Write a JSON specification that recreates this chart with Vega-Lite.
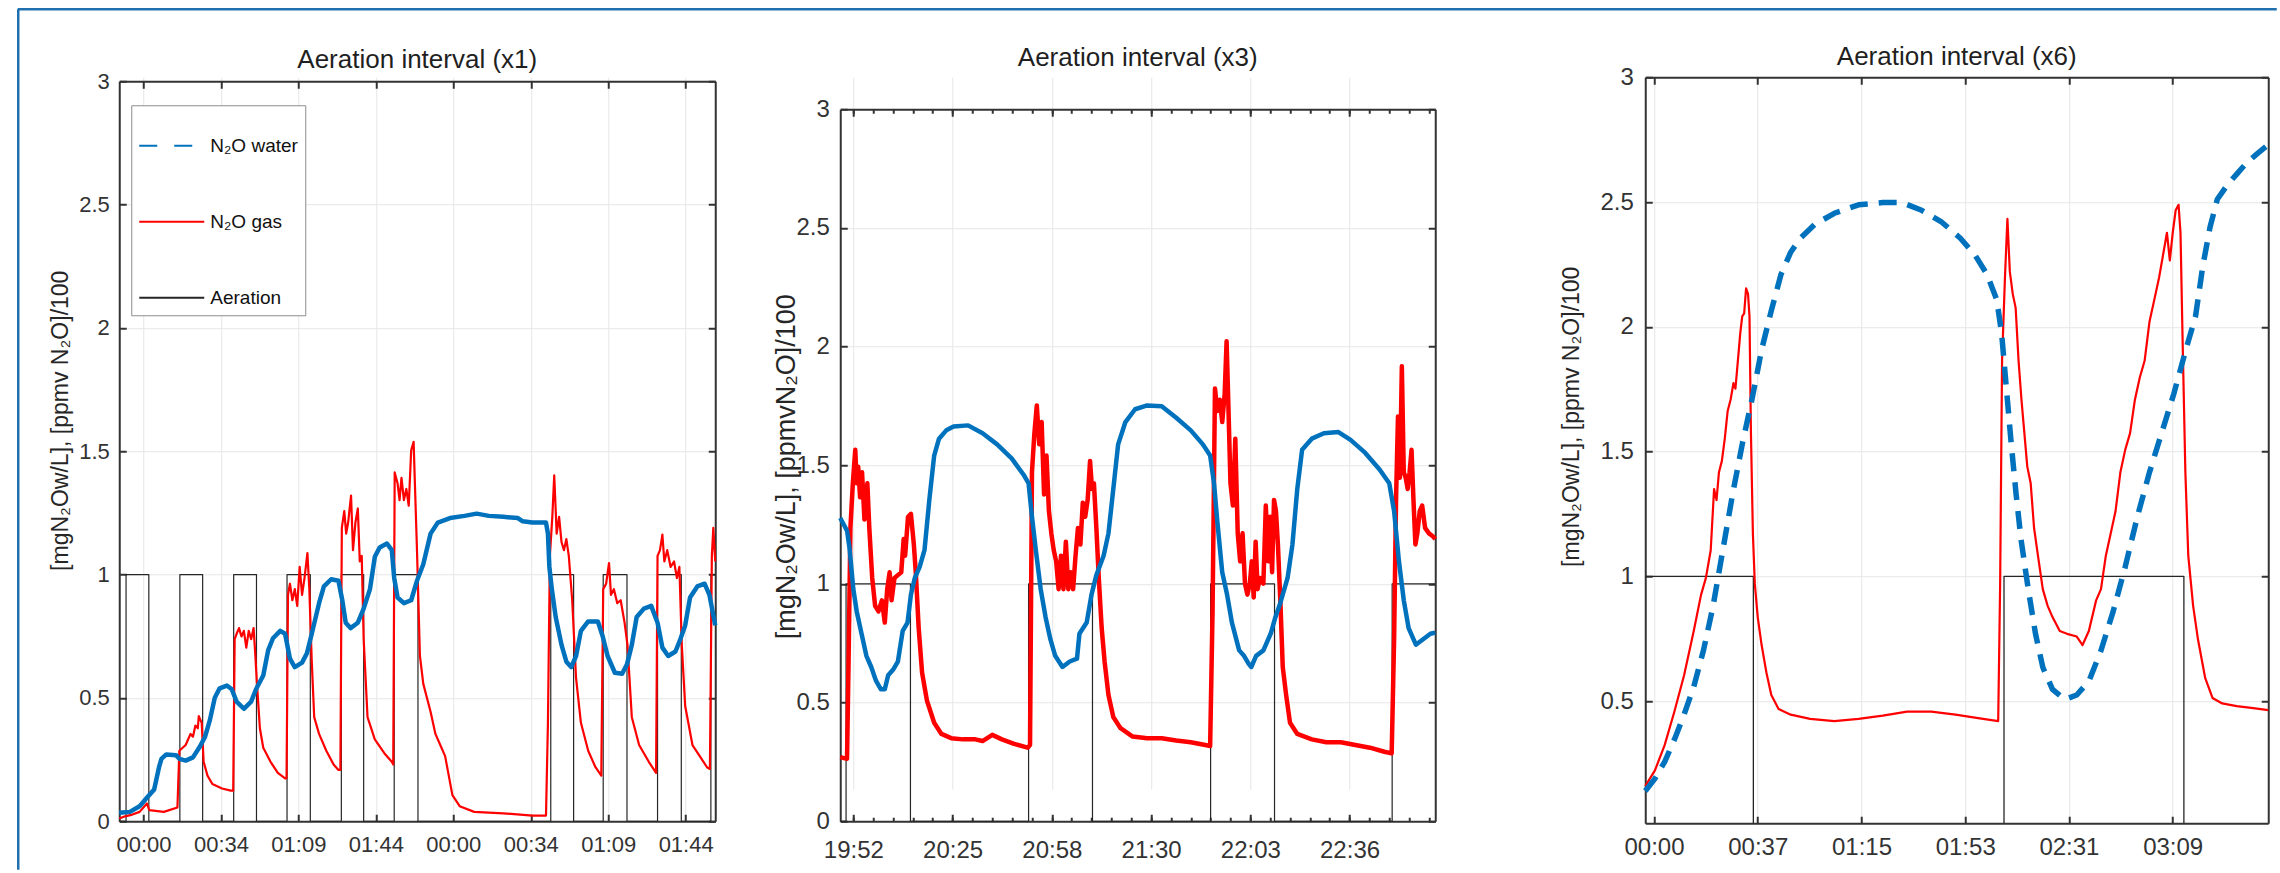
{
  "$schema": "https://vega.github.io/schema/vega-lite/v6.json",
  "background": "white",
  "padding": {"left": 17.25, "top": 8.25, "right": 0, "bottom": 0},
  "bounds": "flush",
  "spacing": 125,
  "config": {
    "view": {"stroke": null},
    "line": {"strokeJoin": "round"},
    "axis": {
      "domainColor": "#333333", "domainWidth": 2,
      "tickColor": "#333333", "tickWidth": 2, "tickSize": -7,
      "labelColor": "#333333", "labelFont": "Liberation Sans",
      "titleFont": "Liberation Sans", "titleFontWeight": "normal", "titleColor": "#262626",
      "gridColor": "#e6e6e6", "gridWidth": 1,
      "labelFlush": false, "labelOverlap": false, "labelAngle": 0
    },
    "title": {"font": "Liberation Sans", "fontWeight": "normal", "color": "#1f1f1f", "fontSize": 26, "frame": "group", "anchor": "middle"}
  },
  "resolve": {"scale": {"color": "independent", "strokeDash": "independent"}},
  "hconcat": [
    {
      "width": 596, "height": 744,
      "title": {"text": "Aeration interval (x1)", "offset": -63.95},
      "resolve": {"scale": {"x": "independent", "y": "independent"}},
      "layer": [
        {
          "resolve": {"axis": {"x": "independent", "y": "independent"}},
          "layer": [
            {
              "data": {"name": "p1_air"},
              "mark": {"type": "line", "interpolate": "step-after", "strokeWidth": 1.2},
              "encoding": {
                "x": {"field": "t", "type": "quantitative", "scale": {"domain": [-10.85, 255.92], "nice": false, "zero": false},
                  "axis": {"orient": "bottom", "title": null, "values": [0, 34.67, 69.34, 104.01, 138.67, 173.34, 208.01, 242.68],
                    "labelExpr": "timeFormat(datetime(2000, 0, 1, 0, datum.value % 138.67), '%H:%M')",
                    "labelFontSize": 22, "labelPadding": 20, "grid": true}},
                "y": {"field": "v", "type": "quantitative", "scale": {"domain": [0, 3], "range": [744, 4], "nice": false, "zero": false},
                  "axis": {"orient": "left", "values": [0, 0.5, 1, 1.5, 2, 2.5, 3], "format": "~g", "labelFontSize": 22, "labelPadding": 17, "grid": true,
                    "title": "[mgN₂Ow/L], [ppmv N₂O]/100", "titleFontSize": 23, "titleX": -59, "titleY": 343, "titleAngle": 270, "titleAlign": "center", "titleBaseline": "middle"}},
                "color": {"datum": "air", "type": "nominal",
                  "scale": {"domain": ["water", "gas", "air"], "range": ["#0072BD", "#FF0000", "#262626"]},
                  "legend": {
                    "orient": "none", "legendX": 12, "legendY": 28, "title": null, "direction": "vertical",
                    "symbolType": "stroke", "symbolSize": 4225, "symbolStrokeWidth": 2,
                    "labelFont": "Liberation Sans", "labelFontSize": 19, "labelColor": "#111111", "labelOffset": 5,
                    "padding": 7, "rowPadding": 32, "strokeColor": "#8c8c8c", "fillColor": "#ffffff",
                    "labelExpr": "datum.value == 'water' ? 'N₂O water' : datum.value == 'gas' ? 'N₂O gas' : 'Aeration'",
                    "encode": {
                      "symbols": {
                        "strokeWidth": {"condition": [{"test": "datum.value == 'water'", "value": 3.5}, {"test": "datum.value == 'gas'", "value": 2}], "value": 1}
                      }
                    }
                  }},
                "strokeDash": {"datum": "air", "type": "nominal",
                  "scale": {"domain": ["water", "gas", "air"], "range": [[18, 17], [1, 0], [1, 0]]},
                  "legend": {
                    "orient": "none", "legendX": 12, "legendY": 28, "title": null, "direction": "vertical",
                    "symbolType": "stroke", "symbolSize": 4225, "symbolStrokeWidth": 2,
                    "labelFont": "Liberation Sans", "labelFontSize": 19, "labelColor": "#111111", "labelOffset": 5,
                    "padding": 7, "rowPadding": 32, "strokeColor": "#8c8c8c", "fillColor": "#ffffff",
                    "labelExpr": "datum.value == 'water' ? 'N₂O water' : datum.value == 'gas' ? 'N₂O gas' : 'Aeration'",
                    "encode": {
                      "symbols": {
                        "strokeWidth": {"condition": [{"test": "datum.value == 'water'", "value": 3.5}, {"test": "datum.value == 'gas'", "value": 2}], "value": 1}
                      }
                    }
                  }}
              }
            },
            {
              "data": {"name": "p1_gas"},
              "mark": {"type": "line", "strokeWidth": 2.2},
              "encoding": {
                "x": {"field": "t", "type": "quantitative",
                  "axis": {"orient": "top", "offset": -4, "title": null, "labels": false, "grid": false, "values": [0, 34.67, 69.34, 104.01, 138.67, 173.34, 208.01, 242.68]}},
                "y": {"field": "v", "type": "quantitative",
                  "axis": {"orient": "right", "title": null, "labels": false, "grid": false, "values": [0, 0.5, 1, 1.5, 2, 2.5, 3]}},
                "color": {"datum": "gas", "type": "nominal"}
              }
            },
            {
              "data": {"name": "p1_water"},
              "mark": {"type": "line", "strokeWidth": 4.5},
              "encoding": {
                "x": {"field": "t", "type": "quantitative", "axis": null},
                "y": {"field": "v", "type": "quantitative", "axis": null},
                "color": {"datum": "water", "type": "nominal"}
              }
            }
          ]
        },
        {
          "data": {"values": [{"t": 0, "v": 0}, {"t": 1, "v": 1}]},
          "mark": {"type": "line", "opacity": 0},
          "encoding": {
            "x": {"field": "t", "type": "quantitative", "scale": {"domain": [0, 1], "range": [-102, 2157], "nice": false, "zero": false},
              "axis": {"orient": "top", "offset": 68.5, "title": null, "labels": false, "ticks": false, "grid": false, "domainColor": "#2070b0", "domainWidth": 2.5}},
            "y": {"field": "v", "type": "quantitative", "scale": {"domain": [0, 1], "range": [792, -68.5], "nice": false, "zero": false},
              "axis": {"orient": "left", "offset": 101.5, "title": null, "labels": false, "ticks": false, "grid": false, "domainColor": "#2070b0", "domainWidth": 2.5}}
          }
        }
      ]
    },
    {
      "bounds": "flush",
      "spacing": 210,
      "hconcat": [
        {
          "width": 595, "height": 744,
          "title": {"text": "Aeration interval (x3)", "offset": 5.8},
          "resolve": {"axis": {"x": "independent", "y": "independent"}},
          "layer": [
            {
              "data": {"name": "p2_air"},
              "mark": {"type": "line", "interpolate": "step-after", "strokeWidth": 1.2},
              "encoding": {
                "x": {"field": "t", "type": "quantitative", "scale": {"domain": [1188.18, 1384.82], "nice": false, "zero": false},
                  "axis": {"orient": "bottom", "title": null, "values": [1192.5, 1225.3, 1258.1, 1290.9, 1323.7, 1356.5],
                    "labelExpr": "timeFormat(datetime(2000, 0, 1, 0, datum.value), '%H:%M')",
                    "labelFontSize": 24, "labelPadding": 24, "grid": true}},
                "y": {"field": "v", "type": "quantitative", "scale": {"domain": [0, 3], "range": [744, 32], "nice": false, "zero": false},
                  "axis": {"orient": "left", "values": [0, 0.5, 1, 1.5, 2, 2.5, 3], "format": "~g", "labelFontSize": 24, "labelPadding": 18, "grid": true,
                    "title": "[mgN₂Ow/L], [ppmvN₂O]/100", "titleFontSize": 27, "titleX": -54, "titleY": 389, "titleAngle": 270, "titleAlign": "center", "titleBaseline": "middle"}},
                "color": {"datum": "air", "type": "nominal",
                  "scale": {"domain": ["water", "gas", "air"], "range": ["#0072BD", "#FF0000", "#262626"]}, "legend": null}
              }
            },
            {
              "data": {"name": "p2_gas"},
              "mark": {"type": "line", "strokeWidth": 4.5},
              "encoding": {
                "x": {"field": "t", "type": "quantitative",
                  "axis": {"orient": "top", "offset": -32, "title": null, "labels": false, "grid": false, "values": [1192.5, 1225.3, 1258.1, 1290.9, 1323.7, 1356.5]}},
                "y": {"field": "v", "type": "quantitative",
                  "axis": {"orient": "right", "title": null, "labels": false, "grid": false, "values": [0, 0.5, 1, 1.5, 2, 2.5, 3]}},
                "color": {"datum": "gas", "type": "nominal", "legend": null}
              }
            },
            {
              "data": {"name": "p2_water"},
              "mark": {"type": "line", "strokeWidth": 4.5},
              "encoding": {
                "x": {"field": "t", "type": "quantitative",
                  "axis": {"orient": "bottom", "title": null, "labels": false, "grid": false, "domain": false, "tickSize": -4,
                    "values": [1192.5, 1199.06, 1205.62, 1212.18, 1218.74, 1225.3, 1231.86, 1238.42, 1244.98, 1251.54, 1258.1, 1264.66, 1271.22, 1277.78, 1284.34, 1290.9, 1297.46, 1304.02, 1310.58, 1317.14, 1323.7, 1330.26, 1336.82, 1343.38, 1349.94, 1356.5, 1363.06, 1369.62, 1376.18, 1382.74]}},
                "y": {"field": "v", "type": "quantitative", "axis": null},
                "color": {"datum": "water", "type": "nominal", "legend": null}
              }
            },
            {
              "data": {"name": "p2_water"},
              "mark": {"type": "line", "opacity": 0},
              "encoding": {
                "x": {"field": "t", "type": "quantitative",
                  "axis": {"orient": "top", "offset": -32, "title": null, "labels": false, "grid": false, "domain": false, "tickSize": -4,
                    "values": [1192.5, 1199.06, 1205.62, 1212.18, 1218.74, 1225.3, 1231.86, 1238.42, 1244.98, 1251.54, 1258.1, 1264.66, 1271.22, 1277.78, 1284.34, 1290.9, 1297.46, 1304.02, 1310.58, 1317.14, 1323.7, 1330.26, 1336.82, 1343.38, 1349.94, 1356.5, 1363.06, 1369.62, 1376.18, 1382.74]}},
                "y": {"field": "v", "type": "quantitative", "axis": null}
              }
            }
          ]
        },
        {
          "width": 623, "height": 746,
          "title": {"text": "Aeration interval (x6)", "offset": -5},
          "resolve": {"axis": {"x": "independent", "y": "independent"}},
          "layer": [
            {
              "data": {"name": "p3_air"},
              "mark": {"type": "line", "interpolate": "step-after", "strokeWidth": 1.3, "clip": true},
              "encoding": {
                "x": {"field": "t", "type": "quantitative", "scale": {"domain": [-3.18, 223.82], "nice": false, "zero": false},
                  "axis": {"orient": "bottom", "title": null, "values": [0, 37.8, 75.6, 113.4, 151.2, 189],
                    "labelExpr": "timeFormat(datetime(2000, 0, 1, 0, datum.value), '%H:%M')",
                    "labelFontSize": 24, "labelPadding": 19, "grid": true}},
                "y": {"field": "v", "type": "quantitative", "scale": {"domain": [0.011, 3], "nice": false, "zero": false},
                  "axis": {"orient": "left", "values": [0.5, 1, 1.5, 2, 2.5, 3], "format": "~g", "labelFontSize": 24, "labelPadding": 19, "grid": true,
                    "title": "[mgN₂Ow/L], [ppmv N₂O]/100", "titleFontSize": 23, "titleX": -74, "titleY": 339, "titleAngle": 270, "titleAlign": "center", "titleBaseline": "middle"}},
                "color": {"datum": "air", "type": "nominal",
                  "scale": {"domain": ["water", "gas", "air"], "range": ["#0072BD", "#FF0000", "#262626"]}, "legend": null}
              }
            },
            {
              "data": {"name": "p3_gas"},
              "mark": {"type": "line", "strokeWidth": 2.2},
              "encoding": {
                "x": {"field": "t", "type": "quantitative",
                  "axis": {"orient": "top", "title": null, "labels": false, "grid": false, "values": [0, 37.8, 75.6, 113.4, 151.2, 189]}},
                "y": {"field": "v", "type": "quantitative",
                  "axis": {"orient": "right", "title": null, "labels": false, "grid": false, "values": [0.5, 1, 1.5, 2, 2.5, 3]}},
                "color": {"datum": "gas", "type": "nominal", "legend": null}
              }
            },
            {
              "data": {"name": "p3_water"},
              "mark": {"type": "line", "strokeWidth": 5.5, "strokeDash": [18, 11]},
              "encoding": {
                "x": {"field": "t", "type": "quantitative", "axis": null},
                "y": {"field": "v", "type": "quantitative", "axis": null},
                "color": {"datum": "water", "type": "nominal", "legend": null}
              }
            }
          ]
        }
      ]
    }
  ],
  "datasets": {
    "p1_air": [
      {"t": -10.85, "v": 0}, {"t": -7.81, "v": 1}, {"t": 2.39, "v": 0}, {"t": 16.28, "v": 1}, {"t": 26.48, "v": 0},
      {"t": 40.37, "v": 1}, {"t": 50.58, "v": 0}, {"t": 64.25, "v": 1}, {"t": 74.67, "v": 0}, {"t": 88.56, "v": 1},
      {"t": 98.55, "v": 0}, {"t": 112.22, "v": 1}, {"t": 122.86, "v": 0}, {"t": 182.3, "v": 1}, {"t": 192.53, "v": 0},
      {"t": 205.77, "v": 1}, {"t": 216.41, "v": 0}, {"t": 230.09, "v": 1}, {"t": 240.72, "v": 0}, {"t": 253.96, "v": 1},
      {"t": 255.92, "v": 1}
    ],
    "p1_gas": [
      {"t": -10.85, "v": 0.011}, {"t": -8.25, "v": 0.02}, {"t": -4.99, "v": 0.027}, {"t": -1.74, "v": 0.038}, {"t": 0.43, "v": 0.061},
      {"t": 1.52, "v": 0.072}, {"t": 2.6, "v": 0.045}, {"t": 9.12, "v": 0.038}, {"t": 15.19, "v": 0.056}, {"t": 16.06, "v": 0.286},
      {"t": 18.88, "v": 0.309}, {"t": 21.05, "v": 0.354}, {"t": 22.14, "v": 0.343}, {"t": 23.23, "v": 0.388}, {"t": 24.31, "v": 0.377},
      {"t": 24.75, "v": 0.426}, {"t": 26.05, "v": 0.399}, {"t": 26.92, "v": 0.241}, {"t": 28.65, "v": 0.185}, {"t": 30.82, "v": 0.151},
      {"t": 35.16, "v": 0.133}, {"t": 39.07, "v": 0.124}, {"t": 40.16, "v": 0.124}, {"t": 40.81, "v": 0.738}, {"t": 41.68, "v": 0.76},
      {"t": 42.76, "v": 0.783}, {"t": 43.85, "v": 0.749}, {"t": 44.93, "v": 0.772}, {"t": 46.02, "v": 0.704}, {"t": 47.11, "v": 0.772},
      {"t": 48.19, "v": 0.738}, {"t": 49.28, "v": 0.783}, {"t": 49.93, "v": 0.693}, {"t": 50.79, "v": 0.557}, {"t": 52.1, "v": 0.377},
      {"t": 53.61, "v": 0.298}, {"t": 56.87, "v": 0.241}, {"t": 60.13, "v": 0.196}, {"t": 63.38, "v": 0.174}, {"t": 64.03, "v": 0.174},
      {"t": 64.68, "v": 0.918}, {"t": 65.55, "v": 0.963}, {"t": 66.64, "v": 0.896}, {"t": 67.72, "v": 0.941}, {"t": 68.81, "v": 0.873},
      {"t": 69.9, "v": 1.031}, {"t": 70.98, "v": 0.918}, {"t": 72.07, "v": 0.986}, {"t": 73.37, "v": 1.087}, {"t": 74.23, "v": 0.941},
      {"t": 75.32, "v": 0.647}, {"t": 76.41, "v": 0.422}, {"t": 78.58, "v": 0.354}, {"t": 81.83, "v": 0.286}, {"t": 85.09, "v": 0.23},
      {"t": 87.26, "v": 0.208}, {"t": 88.13, "v": 0.208}, {"t": 88.78, "v": 1.189}, {"t": 89.86, "v": 1.257}, {"t": 90.73, "v": 1.166},
      {"t": 91.6, "v": 1.211}, {"t": 92.9, "v": 1.32}, {"t": 93.77, "v": 1.099}, {"t": 94.86, "v": 1.211}, {"t": 95.94, "v": 1.268},
      {"t": 96.81, "v": 1.053}, {"t": 97.68, "v": 1.076}, {"t": 98.55, "v": 0.738}, {"t": 100.28, "v": 0.422}, {"t": 103.54, "v": 0.332},
      {"t": 107.88, "v": 0.275}, {"t": 111.14, "v": 0.241}, {"t": 111.79, "v": 0.23}, {"t": 112.44, "v": 1.414}, {"t": 113.74, "v": 1.369},
      {"t": 114.61, "v": 1.302}, {"t": 115.48, "v": 1.392}, {"t": 116.56, "v": 1.302}, {"t": 117.65, "v": 1.347}, {"t": 118.73, "v": 1.279},
      {"t": 119.82, "v": 1.504}, {"t": 120.91, "v": 1.538}, {"t": 121.56, "v": 1.347}, {"t": 122.42, "v": 1.099}, {"t": 123.73, "v": 0.67},
      {"t": 125.24, "v": 0.557}, {"t": 128.5, "v": 0.444}, {"t": 130.67, "v": 0.354}, {"t": 132.84, "v": 0.309}, {"t": 135.01, "v": 0.264},
      {"t": 138.27, "v": 0.106}, {"t": 141.53, "v": 0.061}, {"t": 148.04, "v": 0.038}, {"t": 161.06, "v": 0.032}, {"t": 174.09, "v": 0.023},
      {"t": 180.16, "v": 0.023}, {"t": 181.03, "v": 0.399}, {"t": 181.9, "v": 1.076}, {"t": 182.99, "v": 1.234}, {"t": 183.85, "v": 1.402},
      {"t": 184.94, "v": 1.166}, {"t": 186.03, "v": 1.234}, {"t": 187.11, "v": 1.132}, {"t": 188.2, "v": 1.099}, {"t": 189.28, "v": 1.144},
      {"t": 190.37, "v": 1.076}, {"t": 191.89, "v": 0.896}, {"t": 193.62, "v": 0.58}, {"t": 195.79, "v": 0.399}, {"t": 199.05, "v": 0.286},
      {"t": 202.31, "v": 0.219}, {"t": 204.91, "v": 0.185}, {"t": 205.77, "v": 0.941}, {"t": 207.08, "v": 0.963}, {"t": 208.38, "v": 1.047},
      {"t": 209.25, "v": 0.918}, {"t": 210.55, "v": 0.941}, {"t": 212.07, "v": 0.884}, {"t": 213.59, "v": 0.896}, {"t": 215.33, "v": 0.805},
      {"t": 216.63, "v": 0.715}, {"t": 218.58, "v": 0.422}, {"t": 221.84, "v": 0.309}, {"t": 226.18, "v": 0.241}, {"t": 229.44, "v": 0.196},
      {"t": 230.09, "v": 1.076}, {"t": 231.18, "v": 1.099}, {"t": 232.26, "v": 1.162}, {"t": 233.13, "v": 1.053}, {"t": 234.43, "v": 1.099},
      {"t": 235.95, "v": 1.031}, {"t": 237.47, "v": 1.053}, {"t": 238.77, "v": 0.986}, {"t": 239.86, "v": 1.031}, {"t": 240.94, "v": 0.715},
      {"t": 242.46, "v": 0.467}, {"t": 245.72, "v": 0.309}, {"t": 248.98, "v": 0.264}, {"t": 252.23, "v": 0.219}, {"t": 253.53, "v": 0.212},
      {"t": 254.4, "v": 1.076}, {"t": 255.05, "v": 1.189}, {"t": 255.92, "v": 1.053}
    ],
    "p1_water": [
      {"t": -10.85, "v": 0.034}, {"t": -6.08, "v": 0.038}, {"t": -1.74, "v": 0.061}, {"t": 1.52, "v": 0.095}, {"t": 4.78, "v": 0.129},
      {"t": 6.95, "v": 0.219}, {"t": 8.03, "v": 0.253}, {"t": 10.2, "v": 0.271}, {"t": 14.54, "v": 0.268}, {"t": 16.06, "v": 0.253},
      {"t": 18.88, "v": 0.246}, {"t": 22.14, "v": 0.259}, {"t": 25.4, "v": 0.305}, {"t": 27.57, "v": 0.343}, {"t": 29.74, "v": 0.411},
      {"t": 31.91, "v": 0.501}, {"t": 34.08, "v": 0.539}, {"t": 37.33, "v": 0.55}, {"t": 39.5, "v": 0.535}, {"t": 41.68, "v": 0.485},
      {"t": 44.93, "v": 0.456}, {"t": 48.19, "v": 0.485}, {"t": 50.36, "v": 0.535}, {"t": 53.61, "v": 0.591}, {"t": 55.79, "v": 0.693},
      {"t": 57.96, "v": 0.742}, {"t": 61.21, "v": 0.772}, {"t": 63.38, "v": 0.76}, {"t": 65.55, "v": 0.659}, {"t": 67.72, "v": 0.625},
      {"t": 70.98, "v": 0.643}, {"t": 73.15, "v": 0.681}, {"t": 75.32, "v": 0.76}, {"t": 78.58, "v": 0.884}, {"t": 80.75, "v": 0.952},
      {"t": 84.0, "v": 0.981}, {"t": 87.26, "v": 0.975}, {"t": 88.99, "v": 0.896}, {"t": 90.51, "v": 0.805}, {"t": 92.68, "v": 0.783},
      {"t": 95.94, "v": 0.805}, {"t": 98.55, "v": 0.862}, {"t": 101.37, "v": 0.941}, {"t": 103.54, "v": 1.072}, {"t": 105.71, "v": 1.11},
      {"t": 108.97, "v": 1.126}, {"t": 111.14, "v": 1.099}, {"t": 112.22, "v": 0.986}, {"t": 113.74, "v": 0.907}, {"t": 116.56, "v": 0.884},
      {"t": 119.82, "v": 0.896}, {"t": 122.42, "v": 0.975}, {"t": 125.24, "v": 1.042}, {"t": 128.5, "v": 1.166}, {"t": 131.76, "v": 1.211},
      {"t": 137.18, "v": 1.229}, {"t": 143.69, "v": 1.238}, {"t": 149.12, "v": 1.247}, {"t": 154.55, "v": 1.238}, {"t": 161.06, "v": 1.234},
      {"t": 167.57, "v": 1.229}, {"t": 169.74, "v": 1.216}, {"t": 174.09, "v": 1.211}, {"t": 180.16, "v": 1.211}, {"t": 181.03, "v": 1.166},
      {"t": 181.68, "v": 1.031}, {"t": 182.77, "v": 0.941}, {"t": 184.5, "v": 0.828}, {"t": 187.11, "v": 0.715}, {"t": 189.28, "v": 0.647},
      {"t": 191.45, "v": 0.625}, {"t": 193.62, "v": 0.67}, {"t": 195.79, "v": 0.772}, {"t": 199.05, "v": 0.81}, {"t": 203.39, "v": 0.81},
      {"t": 205.56, "v": 0.749}, {"t": 207.73, "v": 0.67}, {"t": 210.99, "v": 0.602}, {"t": 214.24, "v": 0.598}, {"t": 216.41, "v": 0.636},
      {"t": 218.58, "v": 0.715}, {"t": 220.75, "v": 0.828}, {"t": 224.0, "v": 0.862}, {"t": 227.26, "v": 0.873}, {"t": 230.09, "v": 0.805},
      {"t": 232.26, "v": 0.704}, {"t": 234.86, "v": 0.67}, {"t": 238.12, "v": 0.688}, {"t": 240.29, "v": 0.738}, {"t": 242.46, "v": 0.794},
      {"t": 244.63, "v": 0.907}, {"t": 247.89, "v": 0.952}, {"t": 251.14, "v": 0.963}, {"t": 253.31, "v": 0.918}, {"t": 255.92, "v": 0.794}
    ],
    "p2_air": [
      {"t": 1188.18, "v": 0}, {"t": 1190.1, "v": 1}, {"t": 1211.38, "v": 0}, {"t": 1250.42, "v": 1}, {"t": 1271.54, "v": 0},
      {"t": 1310.58, "v": 1}, {"t": 1331.7, "v": 0}, {"t": 1370.58, "v": 1}, {"t": 1384.82, "v": 1}
    ],
    "p2_gas": [
      {"t": 1188.18, "v": 0.27}, {"t": 1190.42, "v": 0.263}, {"t": 1190.9, "v": 0.65}, {"t": 1191.54, "v": 1.236}, {"t": 1192.34, "v": 1.424},
      {"t": 1193.14, "v": 1.565}, {"t": 1193.62, "v": 1.424}, {"t": 1194.1, "v": 1.494}, {"t": 1194.74, "v": 1.365}, {"t": 1195.38, "v": 1.471},
      {"t": 1196.18, "v": 1.271}, {"t": 1197.14, "v": 1.424}, {"t": 1197.78, "v": 1.236}, {"t": 1198.74, "v": 1.025}, {"t": 1199.7, "v": 0.908},
      {"t": 1200.82, "v": 0.884}, {"t": 1201.94, "v": 0.931}, {"t": 1202.9, "v": 0.837}, {"t": 1203.7, "v": 0.978}, {"t": 1204.5, "v": 1.049},
      {"t": 1205.14, "v": 0.931}, {"t": 1206.1, "v": 1.025}, {"t": 1207.22, "v": 1.037}, {"t": 1208.34, "v": 1.049}, {"t": 1209.14, "v": 1.189},
      {"t": 1209.62, "v": 1.119}, {"t": 1210.58, "v": 1.283}, {"t": 1211.54, "v": 1.295}, {"t": 1212.5, "v": 1.166}, {"t": 1213.14, "v": 1.049},
      {"t": 1214.1, "v": 0.814}, {"t": 1215.22, "v": 0.626}, {"t": 1216.82, "v": 0.509}, {"t": 1219.22, "v": 0.415}, {"t": 1221.62, "v": 0.368},
      {"t": 1224.82, "v": 0.35}, {"t": 1228.82, "v": 0.345}, {"t": 1232.82, "v": 0.345}, {"t": 1235.22, "v": 0.338}, {"t": 1238.42, "v": 0.364},
      {"t": 1241.62, "v": 0.345}, {"t": 1245.62, "v": 0.326}, {"t": 1250.1, "v": 0.31}, {"t": 1250.9, "v": 0.321}, {"t": 1251.54, "v": 1.471},
      {"t": 1252.34, "v": 1.635}, {"t": 1253.14, "v": 1.752}, {"t": 1253.94, "v": 1.588}, {"t": 1254.74, "v": 1.682}, {"t": 1255.54, "v": 1.377},
      {"t": 1256.34, "v": 1.541}, {"t": 1257.14, "v": 1.307}, {"t": 1257.94, "v": 1.213}, {"t": 1258.74, "v": 1.142}, {"t": 1259.54, "v": 1.095},
      {"t": 1260.34, "v": 0.978}, {"t": 1261.14, "v": 1.119}, {"t": 1261.94, "v": 0.978}, {"t": 1262.74, "v": 1.178}, {"t": 1263.54, "v": 0.978},
      {"t": 1264.34, "v": 1.049}, {"t": 1265.14, "v": 0.978}, {"t": 1265.94, "v": 1.119}, {"t": 1266.74, "v": 1.236}, {"t": 1267.54, "v": 1.166},
      {"t": 1268.34, "v": 1.342}, {"t": 1269.14, "v": 1.283}, {"t": 1269.94, "v": 1.354}, {"t": 1270.74, "v": 1.518}, {"t": 1271.38, "v": 1.4},
      {"t": 1272.02, "v": 1.424}, {"t": 1272.82, "v": 1.236}, {"t": 1273.62, "v": 1.025}, {"t": 1274.58, "v": 0.814}, {"t": 1275.54, "v": 0.673},
      {"t": 1276.82, "v": 0.532}, {"t": 1278.42, "v": 0.439}, {"t": 1280.82, "v": 0.392}, {"t": 1284.82, "v": 0.357}, {"t": 1289.62, "v": 0.35},
      {"t": 1294.42, "v": 0.35}, {"t": 1299.22, "v": 0.34}, {"t": 1304.02, "v": 0.333}, {"t": 1308.82, "v": 0.321}, {"t": 1310.42, "v": 0.317},
      {"t": 1311.22, "v": 0.884}, {"t": 1312.02, "v": 1.823}, {"t": 1312.82, "v": 1.729}, {"t": 1313.62, "v": 1.776}, {"t": 1314.42, "v": 1.682},
      {"t": 1315.22, "v": 1.799}, {"t": 1315.86, "v": 2.022}, {"t": 1316.5, "v": 1.729}, {"t": 1317.14, "v": 1.424}, {"t": 1317.94, "v": 1.33},
      {"t": 1318.74, "v": 1.612}, {"t": 1319.54, "v": 1.213}, {"t": 1320.34, "v": 1.095}, {"t": 1321.14, "v": 1.213}, {"t": 1321.94, "v": 1.001},
      {"t": 1322.74, "v": 0.955}, {"t": 1323.54, "v": 1.001}, {"t": 1324.18, "v": 1.095}, {"t": 1324.82, "v": 0.943}, {"t": 1325.46, "v": 1.178},
      {"t": 1326.1, "v": 0.978}, {"t": 1326.9, "v": 1.025}, {"t": 1328.02, "v": 1.001}, {"t": 1328.82, "v": 1.33}, {"t": 1329.62, "v": 1.095},
      {"t": 1330.26, "v": 1.283}, {"t": 1330.9, "v": 1.049}, {"t": 1331.54, "v": 1.354}, {"t": 1332.18, "v": 1.307}, {"t": 1332.82, "v": 1.166},
      {"t": 1333.62, "v": 0.931}, {"t": 1334.42, "v": 0.65}, {"t": 1335.54, "v": 0.532}, {"t": 1336.82, "v": 0.415}, {"t": 1339.22, "v": 0.368},
      {"t": 1344.02, "v": 0.345}, {"t": 1348.82, "v": 0.333}, {"t": 1353.62, "v": 0.333}, {"t": 1358.42, "v": 0.321}, {"t": 1363.22, "v": 0.31},
      {"t": 1368.02, "v": 0.293}, {"t": 1370.42, "v": 0.286}, {"t": 1371.22, "v": 0.767}, {"t": 1371.86, "v": 1.354}, {"t": 1372.5, "v": 1.705},
      {"t": 1373.14, "v": 1.447}, {"t": 1373.78, "v": 1.917}, {"t": 1374.42, "v": 1.471}, {"t": 1375.06, "v": 1.447}, {"t": 1375.7, "v": 1.4},
      {"t": 1376.34, "v": 1.471}, {"t": 1376.98, "v": 1.565}, {"t": 1377.62, "v": 1.354}, {"t": 1378.26, "v": 1.166}, {"t": 1378.9, "v": 1.213},
      {"t": 1379.7, "v": 1.307}, {"t": 1380.5, "v": 1.33}, {"t": 1381.46, "v": 1.236}, {"t": 1382.74, "v": 1.213}, {"t": 1384.02, "v": 1.201},
      {"t": 1384.82, "v": 1.189}
    ],
    "p2_water": [
      {"t": 1188.18, "v": 1.278}, {"t": 1190.42, "v": 1.224}, {"t": 1191.22, "v": 1.154}, {"t": 1192.5, "v": 0.978}, {"t": 1193.62, "v": 0.884},
      {"t": 1195.22, "v": 0.79}, {"t": 1196.82, "v": 0.697}, {"t": 1198.42, "v": 0.65}, {"t": 1200.02, "v": 0.591}, {"t": 1201.62, "v": 0.556},
      {"t": 1202.9, "v": 0.556}, {"t": 1204.02, "v": 0.615}, {"t": 1205.62, "v": 0.638}, {"t": 1207.22, "v": 0.673}, {"t": 1208.82, "v": 0.802},
      {"t": 1210.42, "v": 0.837}, {"t": 1211.54, "v": 0.955}, {"t": 1212.82, "v": 1.025}, {"t": 1214.42, "v": 1.072}, {"t": 1216.02, "v": 1.142},
      {"t": 1217.62, "v": 1.354}, {"t": 1219.22, "v": 1.541}, {"t": 1220.82, "v": 1.612}, {"t": 1223.22, "v": 1.647}, {"t": 1225.62, "v": 1.663},
      {"t": 1230.42, "v": 1.668}, {"t": 1235.22, "v": 1.635}, {"t": 1240.02, "v": 1.588}, {"t": 1244.82, "v": 1.529}, {"t": 1248.82, "v": 1.459},
      {"t": 1250.42, "v": 1.424}, {"t": 1251.54, "v": 1.283}, {"t": 1252.82, "v": 1.142}, {"t": 1254.42, "v": 0.978}, {"t": 1256.02, "v": 0.861},
      {"t": 1257.62, "v": 0.767}, {"t": 1259.22, "v": 0.697}, {"t": 1261.62, "v": 0.65}, {"t": 1264.02, "v": 0.673}, {"t": 1266.42, "v": 0.685},
      {"t": 1267.22, "v": 0.79}, {"t": 1269.62, "v": 0.837}, {"t": 1271.22, "v": 0.955}, {"t": 1272.82, "v": 1.037}, {"t": 1275.22, "v": 1.119},
      {"t": 1276.82, "v": 1.213}, {"t": 1278.42, "v": 1.4}, {"t": 1280.02, "v": 1.588}, {"t": 1282.42, "v": 1.682}, {"t": 1285.62, "v": 1.736},
      {"t": 1289.62, "v": 1.752}, {"t": 1294.42, "v": 1.749}, {"t": 1299.22, "v": 1.7}, {"t": 1304.02, "v": 1.647}, {"t": 1308.02, "v": 1.588},
      {"t": 1310.42, "v": 1.541}, {"t": 1311.7, "v": 1.424}, {"t": 1312.82, "v": 1.26}, {"t": 1314.42, "v": 1.049}, {"t": 1316.02, "v": 0.955},
      {"t": 1317.62, "v": 0.837}, {"t": 1320.02, "v": 0.72}, {"t": 1321.62, "v": 0.697}, {"t": 1323.22, "v": 0.662}, {"t": 1324.02, "v": 0.65},
      {"t": 1325.62, "v": 0.697}, {"t": 1328.02, "v": 0.72}, {"t": 1330.42, "v": 0.79}, {"t": 1332.02, "v": 0.861}, {"t": 1333.62, "v": 0.92},
      {"t": 1336.02, "v": 1.025}, {"t": 1337.62, "v": 1.166}, {"t": 1339.22, "v": 1.4}, {"t": 1340.82, "v": 1.565}, {"t": 1344.02, "v": 1.612},
      {"t": 1348.02, "v": 1.635}, {"t": 1352.82, "v": 1.64}, {"t": 1356.82, "v": 1.607}, {"t": 1361.62, "v": 1.553}, {"t": 1366.42, "v": 1.482},
      {"t": 1369.62, "v": 1.424}, {"t": 1371.22, "v": 1.307}, {"t": 1372.82, "v": 1.095}, {"t": 1374.42, "v": 0.931}, {"t": 1376.02, "v": 0.814},
      {"t": 1378.42, "v": 0.744}, {"t": 1380.82, "v": 0.767}, {"t": 1383.22, "v": 0.79}, {"t": 1384.82, "v": 0.795}
    ],
    "p3_air": [
      {"t": -3.18, "v": 1}, {"t": 36.21, "v": 0}, {"t": 127.54, "v": 1}, {"t": 193.08, "v": 0}, {"t": 223.82, "v": 0}
    ],
    "p3_gas": [
      {"t": -3.18, "v": 0.16}, {"t": 0.35, "v": 0.223}, {"t": 3.89, "v": 0.324}, {"t": 7.42, "v": 0.458}, {"t": 10.95, "v": 0.603},
      {"t": 14.49, "v": 0.781}, {"t": 17.14, "v": 0.926}, {"t": 18.9, "v": 0.993}, {"t": 20.67, "v": 1.105}, {"t": 21.9, "v": 1.35},
      {"t": 22.79, "v": 1.306}, {"t": 23.67, "v": 1.417}, {"t": 24.73, "v": 1.462}, {"t": 25.79, "v": 1.551}, {"t": 26.85, "v": 1.663},
      {"t": 27.91, "v": 1.708}, {"t": 28.97, "v": 1.775}, {"t": 29.68, "v": 1.752}, {"t": 30.74, "v": 1.886}, {"t": 31.44, "v": 1.975},
      {"t": 32.15, "v": 2.042}, {"t": 32.86, "v": 2.054}, {"t": 33.56, "v": 2.154}, {"t": 34.27, "v": 2.132}, {"t": 34.8, "v": 2.042},
      {"t": 35.33, "v": 1.574}, {"t": 36.04, "v": 1.172}, {"t": 36.74, "v": 0.971}, {"t": 37.8, "v": 0.837}, {"t": 39.22, "v": 0.725},
      {"t": 40.98, "v": 0.614}, {"t": 42.75, "v": 0.525}, {"t": 45.4, "v": 0.469}, {"t": 49.82, "v": 0.446}, {"t": 56.88, "v": 0.429},
      {"t": 65.71, "v": 0.42}, {"t": 74.55, "v": 0.429}, {"t": 83.38, "v": 0.442}, {"t": 92.21, "v": 0.458}, {"t": 101.04, "v": 0.458},
      {"t": 109.88, "v": 0.446}, {"t": 118.71, "v": 0.431}, {"t": 125.42, "v": 0.42}, {"t": 126.13, "v": 0.971}, {"t": 126.83, "v": 1.864},
      {"t": 127.89, "v": 2.199}, {"t": 128.78, "v": 2.433}, {"t": 129.66, "v": 2.221}, {"t": 130.72, "v": 2.132}, {"t": 131.78, "v": 2.076},
      {"t": 132.84, "v": 1.864}, {"t": 133.9, "v": 1.708}, {"t": 134.96, "v": 1.574}, {"t": 136.02, "v": 1.44}, {"t": 137.26, "v": 1.373},
      {"t": 138.49, "v": 1.194}, {"t": 139.91, "v": 1.083}, {"t": 141.67, "v": 0.949}, {"t": 143.44, "v": 0.882}, {"t": 145.21, "v": 0.837},
      {"t": 147.86, "v": 0.781}, {"t": 150.51, "v": 0.77}, {"t": 154.04, "v": 0.759}, {"t": 156.16, "v": 0.725}, {"t": 158.45, "v": 0.781},
      {"t": 161.1, "v": 0.904}, {"t": 162.87, "v": 0.949}, {"t": 164.64, "v": 1.083}, {"t": 166.41, "v": 1.172}, {"t": 168.17, "v": 1.261},
      {"t": 169.94, "v": 1.417}, {"t": 171.7, "v": 1.507}, {"t": 173.47, "v": 1.574}, {"t": 175.24, "v": 1.708}, {"t": 177.01, "v": 1.797},
      {"t": 178.77, "v": 1.864}, {"t": 180.54, "v": 2.02}, {"t": 182.31, "v": 2.109}, {"t": 184.07, "v": 2.199}, {"t": 185.84, "v": 2.31},
      {"t": 186.9, "v": 2.377}, {"t": 187.96, "v": 2.266}, {"t": 189.02, "v": 2.377}, {"t": 190.08, "v": 2.467}, {"t": 191.14, "v": 2.489},
      {"t": 191.85, "v": 2.377}, {"t": 192.56, "v": 1.975}, {"t": 193.62, "v": 1.417}, {"t": 194.68, "v": 1.083}, {"t": 196.45, "v": 0.882},
      {"t": 198.21, "v": 0.748}, {"t": 200.86, "v": 0.592}, {"t": 203.51, "v": 0.513}, {"t": 207.04, "v": 0.491}, {"t": 212.33, "v": 0.48},
      {"t": 217.63, "v": 0.473}, {"t": 223.82, "v": 0.464}
    ],
    "p3_water": [
      {"t": -3.18, "v": 0.14}, {"t": 0.35, "v": 0.19}, {"t": 3.89, "v": 0.257}, {"t": 7.42, "v": 0.346}, {"t": 10.95, "v": 0.446},
      {"t": 14.49, "v": 0.558}, {"t": 18.02, "v": 0.703}, {"t": 21.55, "v": 0.882}, {"t": 25.08, "v": 1.105}, {"t": 28.62, "v": 1.328},
      {"t": 32.15, "v": 1.529}, {"t": 35.68, "v": 1.708}, {"t": 39.22, "v": 1.908}, {"t": 42.75, "v": 2.065}, {"t": 46.28, "v": 2.21},
      {"t": 49.82, "v": 2.299}, {"t": 53.35, "v": 2.355}, {"t": 58.65, "v": 2.411}, {"t": 65.71, "v": 2.455}, {"t": 74.55, "v": 2.489},
      {"t": 83.38, "v": 2.498}, {"t": 90.44, "v": 2.498}, {"t": 97.51, "v": 2.467}, {"t": 104.58, "v": 2.422}, {"t": 111.64, "v": 2.355},
      {"t": 116.94, "v": 2.288}, {"t": 121.36, "v": 2.21}, {"t": 124.89, "v": 2.109}, {"t": 126.66, "v": 1.975}, {"t": 128.42, "v": 1.752},
      {"t": 130.19, "v": 1.529}, {"t": 131.96, "v": 1.328}, {"t": 133.72, "v": 1.15}, {"t": 136.37, "v": 0.949}, {"t": 139.02, "v": 0.77},
      {"t": 141.67, "v": 0.636}, {"t": 145.21, "v": 0.547}, {"t": 149.62, "v": 0.507}, {"t": 154.04, "v": 0.525}, {"t": 158.45, "v": 0.58},
      {"t": 162.87, "v": 0.703}, {"t": 167.29, "v": 0.859}, {"t": 171.7, "v": 1.038}, {"t": 176.12, "v": 1.239}, {"t": 180.54, "v": 1.417},
      {"t": 184.95, "v": 1.574}, {"t": 189.37, "v": 1.73}, {"t": 193.79, "v": 1.908}, {"t": 197.32, "v": 2.042}, {"t": 199.97, "v": 2.243},
      {"t": 202.62, "v": 2.4}, {"t": 205.27, "v": 2.511}, {"t": 208.8, "v": 2.567}, {"t": 212.33, "v": 2.612}, {"t": 215.87, "v": 2.656},
      {"t": 219.4, "v": 2.69}, {"t": 223.82, "v": 2.73}
    ]
  }
}
